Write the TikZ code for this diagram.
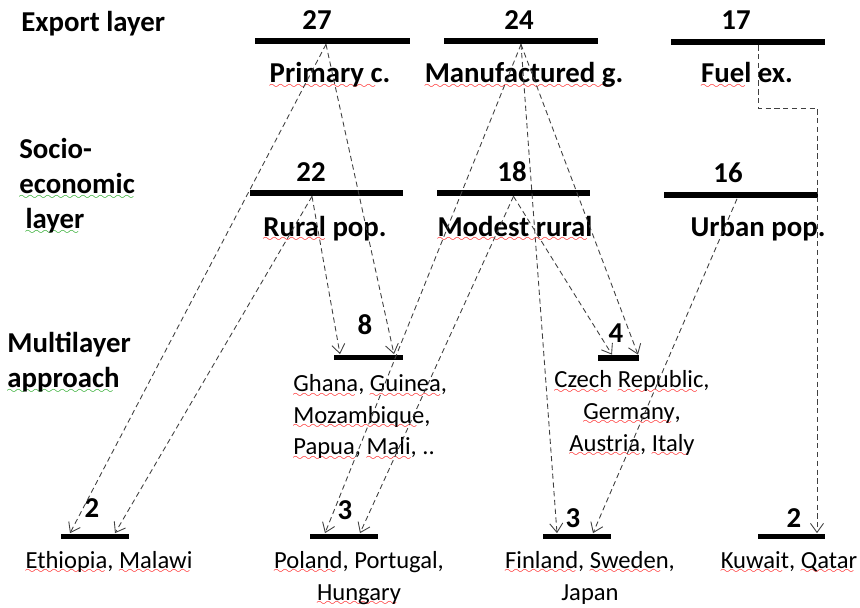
\documentclass[tikz,border=0pt]{standalone}
\usepackage{fontspec}
\setmainfont{Carlito}
\usetikzlibrary{arrows.meta}

% spell-check squiggle under a word
\font\wavefont=lasy6\relax
\newcommand\squig[2]{\setbox0\hbox{#2}\rlap{\lower3pt\hbox to\wd0{\color{#1}\leaders\hbox{\wavefont\char58}\hfill}}\box0\relax}
\newcommand\redsq[1]{\squig{red}{#1}}
\newcommand\grnsq[1]{\squig{green!60!black}{#1}}

\tikzset{
	bar/.style={fill=black, inner sep=0pt, minimum height=0.12cm},
	num/.style={font=\bfseries\fontsize{16.4}{20}\selectfont, anchor=base, inner sep=0pt},
	cty/.style={font=\fontsize{14}{18}\selectfont, align=center, anchor=base, inner sep=0pt},
	link/.style={densely dashed, line width=0.5pt, draw=black!75, -{Straight Barb[length=1.8mm,width=2.6mm]}}
}

\begin{document}
\begin{tikzpicture}[x=0.02cm,y=-0.02cm]
		\useasboundingbox (0,0) rectangle (860,608);
		
		% layer names (multi-line nodes sit on their last line)
		\node[num, anchor=base west] (ex) at (21,32) {Export layer};
		\node[num, anchor=base west, align=left] (se) at (19,229) {Socio-\\\grnsq{economic}\\\hspace*{3.5pt}\grnsq{layer}};
		\node[num, anchor=base west, align=left] (ml) at (7,388) {Multilayer\\\grnsq{approach}};
		
		% export layer
		\node[bar, minimum width=3.1cm] (prim) at (332.5,41) {};
		\node[bar, minimum width=3.08cm] (manu) at (521,41) {};
		\node[bar, minimum width=3.08cm] (fuel) at (748,42) {};
		\node[num] (prim-n) at (317,30) {27};
		\node[num] (manu-n) at (519,30) {24};
		\node[num] (fuel-n) at (736,30) {17};
		\node[num] (prim-t) at (330,83) {\redsq{Primary c}.};
		\node[num] (manu-t) at (524,83) {\redsq{Manufactured g}.};
		\node[num] (fuel-t) at (747,83) {\redsq{Fuel} ex.};
		
		% socio-economic layer
		\node[bar, minimum width=3.06cm] (rur) at (326.5,193) {};
		\node[bar, minimum width=3.06cm] (mod) at (513.5,193) {};
		\node[bar, minimum width=3.08cm] (urb) at (741,195.5) {};
		\node[num] (rur-n) at (311,182) {22};
		\node[num] (mod-n) at (512,182) {18};
		\node[num] (urb-n) at (728,183) {16};
		\node[num] (rur-t) at (325,236) {\redsq{Rural} pop.};
		\node[num] (mod-t) at (515,236) {\redsq{Modest rural}};
		\node[num] (urb-t) at (758,237) {Urban pop.};
		
		% multilayer approach
		\node[bar, minimum width=1.38cm] (m8) at (368.5,357.5) {};
		\node[bar, minimum width=0.82cm] (m4) at (618.5,358) {};
		\node[num] (m8-n) at (365,335) {8};
		\node[num] (m4-n) at (616,342) {4};
		\node[cty, anchor=base west, align=left] (m8-t) at (293,455) {\redsq{Ghana}, \redsq{Guinea},\\\redsq{Mozambique},\\\redsq{Papua}, \redsq{Mali}, ..};
		\node[cty] (m4-t) at (632,451) {\redsq{Czech} \redsq{Republic},\\\redsq{Germany},\\\redsq{Austria}, \redsq{Italy}};
		
		\node[bar, minimum width=1.36cm] (eth) at (95,536.5) {};
		\node[bar, minimum width=1.36cm] (pol) at (344,536.5) {};
		\node[bar, minimum width=1.36cm] (fin) at (577,536.5) {};
		\node[bar, minimum width=1.34cm] (kuw) at (791.5,536.5) {};
		\node[num] (eth-n) at (92,518) {2};
		\node[num] (pol-n) at (345,520) {3};
		\node[num] (fin-n) at (573,527) {3};
		\node[num] (kuw-n) at (794,527) {2};
		\node[cty] (eth-t) at (109,568) {\redsq{Ethiopia}, \redsq{Malawi}};
		\node[cty] (pol-t) at (359,600) {\redsq{Poland}, Portugal,\\\redsq{Hungary}};
		\node[cty] (fin-t) at (590,600) {\redsq{Finland}, \redsq{Sweden},\\Japan};
		\node[cty] (kuw-t) at (789,568) {\redsq{Kuwait}, \redsq{Qatar}};
		
		\coordinate (kink) at (790,108);
		
		\draw[link] ([xshift=-0.13cm]prim.south) -- ([xshift=-0.5cm]eth.north);
		\draw[link] ([xshift=-0.13cm]prim.south) -- ([xshift=0.51cm]m8.north);
		\draw[link] ([xshift=-0.29cm]rur.south) -- ([xshift=0.4cm]eth.north);
		\draw[link] ([xshift=-0.29cm]rur.south) -- ([xshift=-0.57cm]m8.north);
		\draw[link] (manu.south) -- ([xshift=-0.38cm]pol.north);
		\draw[link] (manu.south) -- ([xshift=-0.4cm]fin.north);
		\draw[link] (manu.south) -- ([xshift=0.39cm]m4.north);
		\draw[link] (mod.south) -- ([xshift=0.32cm]pol.north);
		\draw[link] (mod.south) -- ([xshift=-0.13cm]m4.north);
		\draw[link] ([xshift=-0.08cm]urb.south) -- ([xshift=0.32cm]fin.north);
		\draw[link] ([xshift=0.2cm]fuel.south) |- (kink) -| ([xshift=0.51cm]kuw.north);

	\end{tikzpicture}
\end{document}
